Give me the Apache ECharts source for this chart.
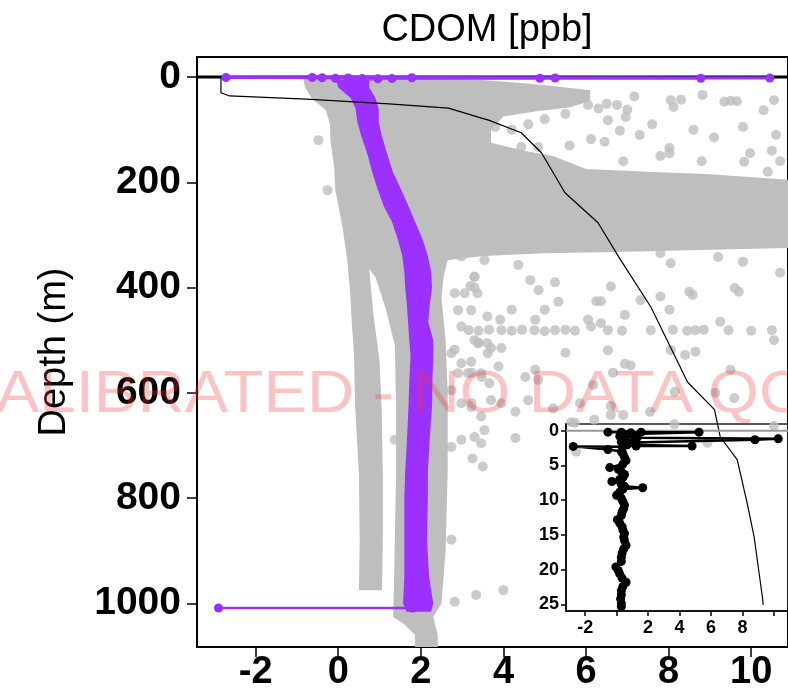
<!DOCTYPE html>
<html><head><meta charset="utf-8">
<script src="https://cdn.jsdelivr.net/npm/echarts@6/dist/echarts.min.js"></script>
<style>html,body{margin:0;padding:0;background:#fff}#c{width:788px;height:696px}</style>
</head><body><div id="c"></div>
<script>
// ---------- data ----------
const xTicks = [-2, 0, 2, 4, 6, 8, 10];
const depthTicks = [0, 200, 400, 600, 800, 1000];
const insetXTicks = [-2, 0, 2, 4, 6, 8, 10];
const insetXLabels = [-2, 2, 4, 6, 8];
const insetDepthTicks = [0, 5, 10, 15, 20, 25];

// dense gray cloud outline (CDOM, depth)
const grayCloudX = [-0.85,-0.8,-0.65,-0.3,-0.2,-0.19,-0.1,-0.07,0.1,0.22,0.29,0.33,0.38,0.41,0.5,0.52,0.5,
  1.06,1.08,1.08,1.05,1.0,0.85,0.75,0.9,1.15,1.37,1.4,1.4,1.37,1.35,1.33,1.6,1.86,1.86,
  2.41,2.41,2.3,2.5,2.6,2.65,2.65,2.6,2.5,2.55,2.65,
  3.5,5,7,9,10.89,10.89,9,7.5,6.0,5.2,4.5,3.7,3.7,4.0,4.8,5.6,6.1,6.1,5.3,4.5,3.4,2];
const grayCloudDepth = [3,20,40,63,90,120,170,215,284,348,411,470,524,627,752,880,975,
  975,880,752,627,540,450,365,380,440,510,627,752,880,960,1026,1040,1060,1083,
  1083,1060,1026,1000,900,750,600,500,420,380,348,
  340,335,332,328,325,195,185,180,175,150,140,125,100,75,65,58,45,25,18,12,5,3];

// scattered gray points [CDOM, depth]
const grayDots = [
 [7.17,37],[8.05,44],[8.12,57],[8.3,43],[8.82,34],[9.35,47],[9.5,45],[9.65,46],[10.55,44],[10.3,63],
 [6.53,82],[6.96,76],[6.82,102],[6.05,53],[6.5,51],[6.75,53],[6.12,118],[6.45,123],[8.02,135],[8.02,145],
 [9.97,145],[10.5,140],[10.7,160],[10.4,180],[9.83,161],[4.43,133],[4.84,133],[5.57,31],[5.88,37],
 [3.8,95],[4.2,100],[4.6,90],[5.0,80],[5.5,70],[6.3,60],[7.0,62],[7.6,90],[7.3,110],[8.6,100],[9.1,115],
 [9.8,95],[10.6,110],[7.8,150],[8.8,160],[6.9,160],[5.6,130],
 [4.36,357],[3.3,380],[4.65,386],[5.25,390],[4.85,405],[3.2,397],[3.3,400],[6.6,398],[7.8,335],[8.05,354],
 [9.2,342],[9.8,351],[10.7,372],[8.5,408],[8.58,414],[9.6,401],[9.7,408],[7.8,417],[8.02,442],[7.32,424],
 [6.25,426],[6.36,426],[6.94,452],[5.33,427],[5.0,442],[4.2,442],[3.92,461],[4.77,461],[6.05,461],[6.12,474],
 [6.36,468],[9.25,465],
 [3.16,481],[3.4,482],[3.65,480],[3.95,481],[4.2,482],[4.45,480],[4.75,481],[5.0,483],[5.25,481],[5.5,480],
 [5.73,482],[6.53,481],[6.87,482],[7.57,481],[8.1,480],[8.45,482],[8.65,481],[8.85,480],[9.45,481],[10.0,482],[10.5,481],
 [3.4,505],[3.7,515],[3.95,515],[5.5,524],[6.53,519],[8.05,519],[8.4,528],[8.65,522],[6.94,545],[7.08,548],
 [3.88,550],[4.77,556],[9.5,556],[3.23,562],[3.47,570],[4.53,570],[4.84,575],[6.17,585],[6.65,562],[8.15,598],
 [9.13,600],[9.59,610],[10.55,500],
 [4.6,614],[5.2,630],[5.85,620],[6.6,625],[7.55,636],[3.95,620],[4.29,636],[3.23,620],
 [4.29,686],[5.73,657],[6.2,651],[6.6,642],[6.9,642],[5.76,712],[5.64,656],[8.14,660],[10.55,663],[8.94,695],
 [2.82,518],[2.98,544],[3.22,541],[3.38,506],[3.62,525],[2.9,563],[3.14,563],[3.46,563],[3.66,582],[2.74,595],
 [2.98,620],[3.22,627],[3.46,645],[3.7,614],[3.54,671],[3.3,684],[2.98,689],[2.74,703],[3.46,696],[2.74,879],
 [2.82,997],[3.34,984],[4.0,975],[3.25,725],[3.5,740],
 [2.98,341],[3.3,379],[3.54,348],[2.82,411],[3.06,411],[3.37,411],[2.9,443],[3.22,443],[3.61,455],[2.98,474],
 [3.3,500],[3.61,506],[2.74,525],
 [-0.48,120],[-0.26,215],[1.37,689]
];

// purple profile band: depth with left / right edges
const purpleDepth = [5,20,40,60,85,110,150,180,210,245,275,310,340,370,400,430,465,500,530,580,627,680,752,800,879,950,1000,1016];
const purpleLeft  = [-0.05,0.0,0.3,0.42,0.46,0.55,0.72,0.82,0.94,1.1,1.3,1.45,1.55,1.6,1.62,1.66,1.69,1.72,1.75,1.72,1.7,1.67,1.62,1.6,1.6,1.6,1.57,1.65];
const purpleRight = [0.75,0.75,0.9,0.98,0.98,1.05,1.2,1.32,1.5,1.7,1.86,2.05,2.17,2.25,2.27,2.22,2.18,2.3,2.3,2.28,2.27,2.22,2.17,2.17,2.15,2.2,2.3,2.25];
// purple surface points (joined in order) and deepest point
const purpleSurfX = [-2.72,1.78,-0.63,10.45,-0.39,8.78,0.24,5.25,-0.07,4.88,0.58,1.3,0.96,0.3];
const purpleSurfDepth = [1,1.5,1,2,1.5,2.5,2,2,2.5,2.5,3,3,3.5,5];
const purpleBottomX = [1.8,-2.9];
const purpleBottomDepth = [1009,1009];

// black reference profile
const profX = [-2.84,-2.84,-2.63,-0.77,1.23,2.67,3.47,3.64,4.43,4.92,5.49,6.29,6.84,7.57,8.46,9.11,9.25,9.66,9.90,10.07,10.27,10.29];
const profDepth = [0,30,36,42,51,59,78,82,106,144,220,277,348,437,580,632,684,727,809,874,988,1003];

// zero line
const zeroX = [-3.42, 10.89];
const zeroDepth = [0, 0];

// inset: first 25 m
const insetX = [-0.55,0.3,0.9,1.56,5.24,0.5,0.2,1.3,10.28,8.8,1.0,0.6,0.3,1.24,4.8,0.7,0.4,-2.76,-0.55,0.3,
 0.4,0.5,0.6,0.4,-0.44,0.1,0.3,0.5,0.4,0.2,-0.3,0.3,0.5,1.66,0.4,0.2,0.0,0.3,0.4,0.5,0.45,0.35,0.3,0.05,0.2,
 0.35,0.4,0.5,0.45,0.5,0.6,0.45,0.35,0.3,0.3,-0.05,0.1,0.2,0.35,0.6,0.4,0.3,0.3,0.25,0.3,0.3];
const insetDepth = [0.2,0.2,0.3,0.2,0.2,0.5,0.8,1.0,1.15,1.3,1.7,1.5,1.6,2.2,2.2,2.0,2.3,2.25,2.7,3.0,
 3.3,3.8,4.3,4.8,5.3,5.5,5.9,6.3,6.7,7.0,7.3,7.7,8.0,8.2,8.4,8.8,9.3,9.7,10.2,10.7,11.2,11.7,12.2,12.8,13.3,
 13.8,14.3,14.8,15.3,15.8,16.5,17.0,17.6,18.2,18.8,19.6,20.1,20.6,21.2,21.8,22.4,23.0,23.6,24.2,24.8,25.3];
const insetZeroX = [-3.22, 10.9];
const insetZeroDepth = [0, 0];

// ---------- helpers ----------
const zip = (xs, ys) => xs.map((x, i) => [x, ys[i]]);
const grayPoly = zip(grayCloudX, grayCloudDepth);
const purplePoly = zip(purpleLeft, purpleDepth).concat(zip(purpleRight, purpleDepth).reverse());
function polySeries(verts, color, name) {
  return {
    type: 'custom', name, xAxisIndex: 0, yAxisIndex: 0, data: [verts[0]],
    renderItem: function (params, api) {
      return { type: 'polygon', shape: { points: verts.map(p => api.coord(p)) }, style: { fill: color } };
    }, silent: true
  };
}
const FONT = '"Liberation Sans", Arial, Helvetica, sans-serif';
const PURPLE = '#9B30FF';
const GRAY = '#BEBEBE';
const WM = 'rgba(240,60,60,0.3)';
const plain = v => String(v);

const chart = echarts.init(document.getElementById('c'), null, { renderer: 'canvas' });
chart.setOption({
  animation: false,
  backgroundColor: '#fff',
  grid: [
    { left: 197, top: 57, width: 594, height: 590, show: true, borderColor: '#000', borderWidth: 2, containLabel: false },
    { left: 566, top: 424, width: 224, height: 187, show: true, borderColor: '#222', borderWidth: 1.5, containLabel: false }
  ],
  xAxis: [
    { type: 'value', gridIndex: 0, min: -3.42, max: 10.89, splitLine: { show: false },
      axisLine: { show: true, onZero: false, lineStyle: { color: '#000', width: 2 } },
      axisTick: { show: true, length: 10, customValues: xTicks, lineStyle: { color: '#000', width: 1.5 } },
      axisLabel: { customValues: xTicks, formatter: plain, margin: 7, color: '#000', fontSize: 38, fontWeight: 'bold', fontFamily: FONT } },
    { type: 'value', gridIndex: 1, min: -3.22, max: 10.9, splitLine: { show: false },
      axisLine: { show: true, onZero: false, lineStyle: { color: '#000', width: 1.5 } },
      axisTick: { show: true, length: 5, customValues: insetXTicks, lineStyle: { color: '#000', width: 1.5 } },
      axisLabel: { customValues: insetXLabels, formatter: plain, margin: 8, color: '#000', fontSize: 18, fontWeight: 'bold', fontFamily: FONT } }
  ],
  yAxis: [
    { type: 'value', gridIndex: 0, inverse: true, min: -38, max: 1083, splitLine: { show: false },
      axisLine: { show: true, onZero: false, lineStyle: { color: '#000', width: 2 } },
      axisTick: { show: true, length: 10, customValues: depthTicks, lineStyle: { color: '#000', width: 1.5 } },
      axisLabel: { customValues: depthTicks, formatter: plain, margin: 16, color: '#000', fontSize: 39, fontWeight: 'bold', fontFamily: FONT } },
    { type: 'value', gridIndex: 1, inverse: true, min: -0.97, max: 25.94, splitLine: { show: false },
      axisLine: { show: true, onZero: false, lineStyle: { color: '#000', width: 1.5 } },
      axisTick: { show: true, length: 5, customValues: insetDepthTicks, lineStyle: { color: '#000', width: 1.5 } },
      axisLabel: { customValues: insetDepthTicks, formatter: plain, margin: 7, color: '#000', fontSize: 18, fontWeight: 'bold', fontFamily: FONT } }
  ],
  graphic: [
    { type: 'text', x: 487, y: 31, z: 10,
      style: { text: 'CDOM [ppb]', fill: '#000', font: '38px ' + FONT, align: 'center', verticalAlign: 'middle' } },
    { type: 'text', x: 55, y: 352, rotation: Math.PI / 2, z: 10,
      style: { text: 'Depth (m)', fill: '#000', font: '38px ' + FONT, align: 'center', verticalAlign: 'middle' } },
    { type: 'text', x: -146, y: 395, scaleX: 1.09, z: 100,
      style: { text: 'UNCALIBRATED - NO DATA', fill: WM, font: '60px ' + FONT, align: 'left', verticalAlign: 'middle' } },
    { type: 'text', x: 708, y: 395, scaleX: 1.09, z: 100,
      style: { text: 'QC', fill: WM, font: '60px ' + FONT, align: 'left', verticalAlign: 'middle' } }
  ],
  series: [
    polySeries(grayPoly, GRAY, 'cloud'),
    { type: 'scatter', xAxisIndex: 0, yAxisIndex: 0, data: grayDots, symbolSize: 10, itemStyle: { color: GRAY }, silent: true },
    { type: 'line', xAxisIndex: 0, yAxisIndex: 0, data: zip(zeroX, zeroDepth), symbol: 'none', lineStyle: { color: '#000', width: 3 }, silent: true },
    polySeries(purplePoly, PURPLE, 'purple'),
    { type: 'line', xAxisIndex: 0, yAxisIndex: 0, data: zip(purpleSurfX, purpleSurfDepth), symbol: 'circle', symbolSize: 9, showAllSymbol: true,
      itemStyle: { color: PURPLE }, lineStyle: { color: PURPLE, width: 3 }, silent: true },
    { type: 'line', xAxisIndex: 0, yAxisIndex: 0, data: zip(purpleBottomX, purpleBottomDepth), symbol: 'circle', symbolSize: 9, showAllSymbol: true,
      itemStyle: { color: PURPLE }, lineStyle: { color: PURPLE, width: 2.5 }, silent: true },
    { type: 'line', xAxisIndex: 0, yAxisIndex: 0, data: zip(profX, profDepth), symbol: 'none', lineStyle: { color: '#000', width: 1.2 }, silent: true },
    { type: 'line', xAxisIndex: 1, yAxisIndex: 1, data: zip(insetZeroX, insetZeroDepth), symbol: 'none', lineStyle: { color: '#999', width: 2 }, silent: true },
    { type: 'line', xAxisIndex: 1, yAxisIndex: 1, data: zip(insetX, insetDepth), symbol: 'circle', symbolSize: 9, showAllSymbol: true,
      itemStyle: { color: '#000' }, lineStyle: { color: '#000', width: 2.5 }, silent: true }
  ]
});
</script></body></html>
